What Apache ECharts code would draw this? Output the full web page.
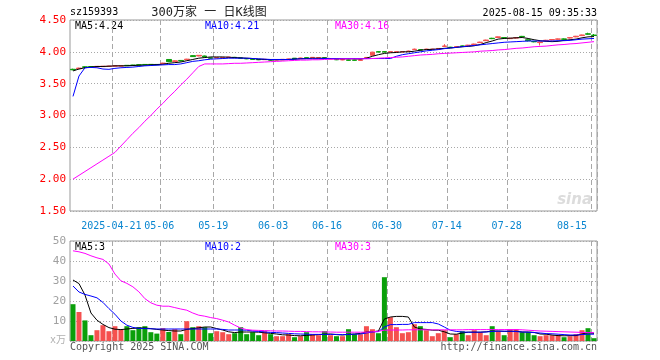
<!DOCTYPE html>
<html><head><meta charset="utf-8">
<script src="https://cdn.jsdelivr.net/npm/echarts@6/dist/echarts.min.js"></script>
<style>html,body{margin:0;padding:0;background:#fff}#c{width:660px;height:360px}</style>
</head><body><div id="c"></div>
<script>
// ---- data ----
const dates = [
'2025-04-10','2025-04-11','2025-04-14','2025-04-15','2025-04-16','2025-04-17','2025-04-18','2025-04-21','2025-04-22','2025-04-23','2025-04-24','2025-04-25','2025-04-28','2025-04-29','2025-04-30',
'2025-05-06','2025-05-07','2025-05-08','2025-05-09','2025-05-12','2025-05-13','2025-05-14','2025-05-15','2025-05-16','2025-05-19','2025-05-20','2025-05-21','2025-05-22','2025-05-23','2025-05-26','2025-05-27','2025-05-28','2025-05-29','2025-05-30',
'2025-06-03','2025-06-04','2025-06-05','2025-06-06','2025-06-09','2025-06-10','2025-06-11','2025-06-12','2025-06-13','2025-06-16','2025-06-17','2025-06-18','2025-06-19','2025-06-20','2025-06-23','2025-06-24','2025-06-25','2025-06-26','2025-06-27','2025-06-30',
'2025-07-01','2025-07-02','2025-07-03','2025-07-04','2025-07-07','2025-07-08','2025-07-09','2025-07-10','2025-07-11','2025-07-14','2025-07-15','2025-07-16','2025-07-17','2025-07-18','2025-07-21','2025-07-22','2025-07-23','2025-07-24','2025-07-25','2025-07-28','2025-07-29','2025-07-30','2025-07-31',
'2025-08-01','2025-08-04','2025-08-05','2025-08-06','2025-08-07','2025-08-08','2025-08-11','2025-08-12','2025-08-13','2025-08-14','2025-08-15'];
const tickDates = ['2025-04-21','2025-05-06','2025-05-19','2025-06-03','2025-06-16','2025-06-30','2025-07-14','2025-07-28','2025-08-15'];
const tickLabels = ['2025-04-21','05-06','05-19','06-03','06-16','06-30','07-14','07-28','08-15'];

const openP = [3.726,3.736,3.764,3.768,3.765,3.768,3.770,3.775,3.776,3.788,
3.792,3.797,3.802,3.803,3.802,3.815,3.880,3.850,3.865,3.875,
3.940,3.935,3.935,3.905,3.905,3.906,3.912,3.914,3.905,3.895,
3.885,3.880,3.877,3.875,3.872,3.876,3.882,3.900,3.897,3.908,
3.907,3.902,3.908,3.887,3.880,3.873,3.872,3.872,3.866,3.905,
3.945,4.003,4.003,3.997,3.996,3.998,4.006,4.035,4.034,4.037,
4.037,4.046,4.085,4.073,4.077,4.093,4.095,4.115,4.145,4.175,
4.213,4.225,4.223,4.207,4.217,4.243,4.190,4.163,4.145,4.175,
4.187,4.197,4.203,4.217,4.235,4.255,4.283,4.263];
const closeP = [3.718,3.745,3.758,3.763,3.772,3.774,3.776,3.781,3.782,3.783,
3.787,3.792,3.797,3.798,3.797,3.823,3.845,3.858,3.858,3.885,
3.925,3.945,3.920,3.900,3.910,3.912,3.918,3.909,3.900,3.890,
3.880,3.875,3.883,3.870,3.878,3.882,3.888,3.888,3.903,3.903,
3.913,3.908,3.896,3.893,3.875,3.879,3.867,3.867,3.872,3.912,
3.995,3.997,3.997,4.003,4.002,4.004,4.012,4.042,4.028,4.043,
4.043,4.053,4.092,4.067,4.083,4.087,4.105,4.122,4.152,4.185,
4.207,4.235,4.217,4.213,4.223,4.237,4.175,4.157,4.155,4.182,
4.193,4.203,4.197,4.223,4.245,4.265,4.277,4.257];
const highP = [3.735,3.750,3.770,3.772,3.777,3.778,3.780,3.786,3.788,3.792,
3.796,3.800,3.806,3.808,3.806,3.828,3.885,3.865,3.870,3.890,
3.945,3.950,3.940,3.910,3.915,3.918,3.922,3.920,3.910,3.900,
3.890,3.885,3.888,3.880,3.883,3.887,3.892,3.902,3.908,3.912,
3.918,3.913,3.910,3.898,3.885,3.884,3.876,3.876,3.876,3.916,
4.000,4.008,4.008,4.008,4.007,4.009,4.018,4.050,4.038,4.048,
4.048,4.058,4.120,4.078,4.088,4.098,4.110,4.128,4.158,4.190,
4.220,4.240,4.230,4.220,4.230,4.250,4.195,4.168,4.160,4.188,
4.198,4.208,4.210,4.228,4.250,4.270,4.300,4.280];
const lowP = [3.710,3.730,3.750,3.760,3.760,3.765,3.765,3.770,3.772,3.778,
3.783,3.788,3.790,3.792,3.790,3.810,3.840,3.845,3.850,3.870,
3.920,3.930,3.915,3.895,3.900,3.900,3.905,3.905,3.895,3.885,
3.875,3.870,3.872,3.865,3.868,3.872,3.877,3.885,3.893,3.898,
3.903,3.898,3.893,3.883,3.870,3.868,3.862,3.862,3.860,3.900,
3.940,3.990,3.990,3.993,3.992,3.993,4.002,4.030,4.022,4.033,
4.033,4.042,4.080,4.062,4.073,4.082,4.090,4.110,4.140,4.170,
4.200,4.220,4.210,4.200,4.210,4.230,4.165,4.150,4.100,4.170,
4.180,4.190,4.190,4.210,4.230,4.250,4.270,4.250];

const ma5 = [3.70,3.73,3.75,3.76,3.77,3.77,3.775,3.78,3.78,3.78,
3.785,3.79,3.79,3.795,3.80,3.805,3.82,3.83,3.84,3.86,
3.88,3.90,3.91,3.92,3.92,3.92,3.915,3.91,3.905,3.90,
3.895,3.885,3.88,3.875,3.875,3.875,3.88,3.885,3.89,3.895,
3.90,3.90,3.90,3.895,3.89,3.89,3.89,3.89,3.885,3.90,
3.93,3.955,3.975,3.985,3.99,4.00,4.00,4.01,4.025,4.035,
4.04,4.045,4.055,4.06,4.07,4.08,4.085,4.095,4.115,4.145,
4.17,4.20,4.21,4.215,4.22,4.225,4.21,4.19,4.175,4.165,
4.16,4.165,4.18,4.19,4.20,4.22,4.235,4.24];
const ma10 = [3.30,3.62,3.75,3.755,3.75,3.73,3.725,3.74,3.75,3.755,
3.76,3.77,3.78,3.785,3.79,3.795,3.80,3.80,3.81,3.83,
3.85,3.86,3.875,3.885,3.89,3.895,3.90,3.90,3.90,3.90,
3.895,3.89,3.885,3.88,3.88,3.88,3.88,3.885,3.89,3.89,
3.89,3.89,3.895,3.895,3.895,3.895,3.895,3.895,3.895,3.895,
3.895,3.895,3.895,3.895,3.93,3.955,3.97,3.985,4.00,4.015,
4.025,4.035,4.05,4.06,4.07,4.08,4.09,4.10,4.11,4.12,
4.13,4.14,4.15,4.155,4.16,4.165,4.17,4.17,4.17,4.17,
4.17,4.175,4.175,4.18,4.19,4.20,4.205,4.21];
const ma30 = [2.00,2.06,2.12,2.18,2.24,2.30,2.36,2.42,2.52,2.62,
2.72,2.81,2.91,3.00,3.10,3.19,3.29,3.38,3.48,3.57,
3.67,3.77,3.81,3.81,3.81,3.81,3.815,3.82,3.82,3.825,
3.83,3.835,3.84,3.845,3.85,3.855,3.86,3.865,3.87,3.87,
3.875,3.875,3.88,3.885,3.885,3.89,3.89,3.89,3.89,3.89,
3.895,3.90,3.905,3.91,3.915,3.92,3.93,3.94,3.95,3.955,
3.96,3.97,3.975,3.98,3.985,3.99,3.995,4.00,4.01,4.015,
4.02,4.03,4.035,4.045,4.055,4.06,4.07,4.08,4.085,4.09,
4.10,4.11,4.115,4.125,4.13,4.14,4.15,4.16];

const volume = [18.4,14.5,10.3,2.9,5.4,7.9,4.9,7.4,5.7,7.4,
5.4,6.9,7.4,4.4,3.7,6.4,4.5,5.9,3.4,9.9,
6.9,7.4,6.9,3.9,4.9,4.4,3.4,3.9,6.9,3.4,
4.4,2.9,4.9,3.4,2.4,2.4,3.4,1.9,2.4,4.4,
3.4,2.9,4.9,2.9,2.4,2.4,5.9,3.4,3.4,7.4,
5.9,3.9,31.9,11.9,6.9,3.9,4.4,8.4,7.4,5.4,
2.4,3.9,5.4,1.9,3.4,4.9,2.9,5.4,4.4,2.9,
7.4,4.9,2.9,5.9,5.9,4.4,4.4,2.9,2.4,2.9,
2.9,2.9,1.9,2.4,3.4,5.4,6.4,1.4];
const vma5 = [30.5,28.7,23.0,14.0,10.4,8.3,6.7,5.9,5.7,6.0,
6.3,6.5,6.5,6.2,5.8,5.5,5.2,5.0,5.0,5.8,
6.2,6.6,7.0,7.0,6.2,5.5,4.6,4.2,4.5,4.5,
4.5,4.4,4.1,3.8,3.5,3.1,3.0,2.7,2.6,2.8,
3.0,3.2,3.4,3.5,3.2,3.0,3.3,3.5,3.8,4.5,
4.6,5.0,11.0,12.0,12.3,12.3,12.0,7.0,6.0,5.8,
5.4,5.4,4.6,3.5,3.4,4.0,4.4,4.4,4.4,4.6,
5.0,5.0,4.8,4.8,4.9,4.5,4.5,4.3,3.5,3.4,
3.0,2.7,2.6,2.7,2.7,3.5,4.2,3.8];
const vma10 = [27.5,24.5,23.3,22.5,21.6,19.3,16.2,13.4,10.0,7.9,
6.8,6.3,6.2,6.1,6.0,6.0,6.0,6.0,6.0,6.0,
6.0,6.0,6.0,6.0,6.0,5.8,5.5,5.5,5.5,5.4,
5.0,4.8,4.5,4.3,4.2,4.0,3.8,3.6,3.5,3.4,
3.3,3.3,3.3,3.3,3.3,3.2,3.3,3.4,3.5,4.0,
4.5,4.7,7.0,8.2,8.2,8.3,8.3,9.2,9.2,9.2,
9.2,8.5,7.0,5.4,4.8,4.5,4.4,4.4,4.4,4.5,
4.8,4.9,4.9,4.9,4.7,4.5,4.4,4.2,4.0,3.7,
3.6,3.4,3.2,3.0,3.0,3.2,3.4,3.4];
const vma30 = [45.1,44.6,43.8,42.6,41.6,40.8,38.5,33.5,30.1,28.8,
27.1,24.6,21.2,19.1,17.9,17.4,17.4,16.7,16.0,15.4,
14.0,12.9,12.4,11.7,11.2,10.4,9.5,7.9,6.5,5.7,
5.4,5.3,5.2,5.1,5.0,5.0,4.9,4.8,4.8,4.7,
4.6,4.6,4.5,4.5,4.4,4.4,4.4,4.4,4.4,4.4,
4.6,4.9,5.4,5.5,5.5,5.5,5.6,5.6,5.6,5.6,
5.6,5.6,5.6,5.6,5.6,5.6,5.7,5.7,5.7,5.7,
5.7,5.7,5.7,5.7,5.7,5.6,5.4,5.2,5.0,4.9,
4.8,4.7,4.6,4.5,4.4,4.3,4.2,4.2];

const priceTicks = {min:1.5, max:4.5, interval:0.5};
const volTicks = {min:0, max:50, interval:10};
const legendMain = ['MA5:4.24','MA10:4.21','MA30:4.16'];
const legendVol = ['MA5:3','MA10:2','MA30:3'];

// ---- styles ----
const RED = '#f5504f', GREEN = '#0a9f0a';
const MONO = 'DejaVu Sans Mono, monospace';
const GRIDC = '#a8a8a8';
const isTick = (i) => tickDates.indexOf(dates[i]) >= 0;

const candle = dates.map((d,i)=>[openP[i],closeP[i],lowP[i],highP[i]]);
const volData = volume.map((v,i)=>({value:v,itemStyle:{color: closeP[i]>=openP[i]?RED:GREEN}}));

function xAxisCfg(gi, showLabel){
  return {
    type:'category', gridIndex:gi, data:dates, boundaryGap:true,
    axisLine:{show:false}, axisTick:{show:false},
    axisLabel:{show:showLabel, interval:(i)=>isTick(i), margin:10,
      fontFamily:MONO, fontSize:10, color:'#0a86d0', padding:[0,7,0,0],
      alignMaxLabel:'right',
      formatter:(v)=>tickLabels[tickDates.indexOf(v)] || ''},
    splitLine:{show:true, interval:(i)=>isTick(i), lineStyle:{color:GRIDC, type:[5,3], width:1}}
  };
}
const ln = (data, color, xi, yi) => ({type:'line', data, xAxisIndex:xi, yAxisIndex:yi, symbol:'none',
  lineStyle:{width:1, color}, itemStyle:{color}, silent:true, animation:false, z:5});

const chart = echarts.init(document.getElementById('c'), null, {renderer:'canvas'});
chart.setOption({
  animation:false,
  backgroundColor:'#fff',
  grid:[
    {left:70, top:20, width:527, height:191, show:true, borderColor:'#999', borderWidth:1, backgroundColor:'transparent'},
    {left:70, top:241, width:527, height:100, show:true, borderColor:'#999', borderWidth:1, backgroundColor:'transparent'}
  ],
  xAxis:[xAxisCfg(0,true), xAxisCfg(1,false)],
  yAxis:[
    {type:'value', gridIndex:0, min:priceTicks.min, max:priceTicks.max, interval:priceTicks.interval,
     axisLine:{show:false}, axisTick:{show:false},
     axisLabel:{color:'#f00', fontFamily:MONO, fontSize:11, margin:4, formatter:(v)=>v.toFixed(2)},
     splitLine:{lineStyle:{color:GRIDC, type:[1,2]}}},
    {type:'value', gridIndex:1, min:volTicks.min, max:volTicks.max, interval:volTicks.interval,
     axisLine:{show:false}, axisTick:{show:false},
     axisLabel:{color:'#a0a0a0', fontFamily:MONO, fontSize:11, margin:4, formatter:(v)=> v===0?'':String(v)},
     splitLine:{lineStyle:{color:GRIDC, type:[1,2]}}}
  ],
  series:[
    {type:'candlestick', data:candle, xAxisIndex:0, yAxisIndex:0, barWidth:5,
     itemStyle:{color:RED, color0:GREEN, borderColor:RED, borderColor0:GREEN, borderWidth:1}, z:3},
    ln(ma5,'#000',0,0), ln(ma10,'#0000ff',0,0), ln(ma30,'#ff00ff',0,0),
    {type:'bar', data:volData, xAxisIndex:1, yAxisIndex:1, barWidth:5, z:3},
    ln(vma5,'#000',1,1), ln(vma10,'#0000ff',1,1), ln(vma30,'#ff00ff',1,1)
  ],
  graphic:[
    {type:'text', left:70, top:7, style:{text:'sz159393', font:'10px '+MONO, fill:'#000'}},
    {type:'text', x:209, y:13, style:{text:'300万家 一 日K线图', font:'12px DejaVu Sans Mono, Noto Sans CJK SC', fill:'#222', align:'center', verticalAlign:'middle'}},
    {type:'text', x:597, y:13, style:{text:'2025-08-15 09:35:33', font:'10px '+MONO, fill:'#000', align:'right', verticalAlign:'middle'}},
    {type:'text', x:75, y:26, style:{text:legendMain[0], font:'10px '+MONO, fill:'#000', verticalAlign:'middle'}},
    {type:'text', x:205, y:26, style:{text:legendMain[1], font:'10px '+MONO, fill:'#0000ff', verticalAlign:'middle'}},
    {type:'text', x:335, y:26, style:{text:legendMain[2], font:'10px '+MONO, fill:'#ff00ff', verticalAlign:'middle'}},
    {type:'text', x:75, y:247, style:{text:legendVol[0], font:'10px '+MONO, fill:'#000', verticalAlign:'middle'}},
    {type:'text', x:205, y:247, style:{text:legendVol[1], font:'10px '+MONO, fill:'#0000ff', verticalAlign:'middle'}},
    {type:'text', x:335, y:247, style:{text:legendVol[2], font:'10px '+MONO, fill:'#ff00ff', verticalAlign:'middle'}},
    {type:'text', x:66, y:340, style:{text:'x万', font:'10px DejaVu Sans Mono, Noto Sans CJK SC', fill:'#b0b0b0', align:'right', verticalAlign:'middle'}},
    {type:'text', x:70, y:347, style:{text:'Copyright 2025 SINA.COM', font:'10px '+MONO, fill:'#555', verticalAlign:'middle'}},
    {type:'text', x:597, y:347, style:{text:'http://finance.sina.com.cn', font:'10px '+MONO, fill:'#555', align:'right', verticalAlign:'middle'}},
    {type:'text', x:592, y:200, style:{text:'sina', font:'italic bold 15px DejaVu Sans', fill:'#dcdcdc', align:'right', verticalAlign:'middle'}}
  ]
});
</script></body></html>
